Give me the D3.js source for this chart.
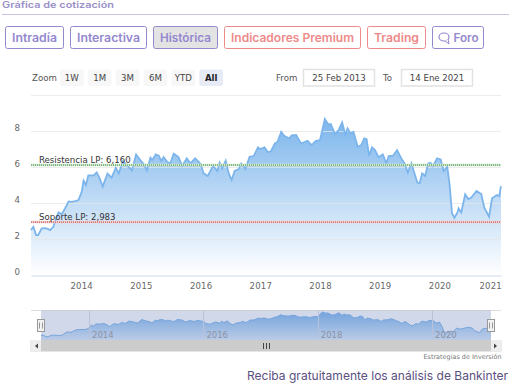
<!DOCTYPE html>
<html>
<head>
<meta charset="utf-8">
<script src="https://cdn.jsdelivr.net/npm/d3@7/dist/d3.min.js"></script>
<style>
  html, body { margin: 0; padding: 0; background: #fff; overflow: hidden; }
  svg { display: block; }
  .chart-text { font-family: "DejaVu Sans", sans-serif; }
  .page-text { font-family: Inter, "Noto Sans", sans-serif; }
</style>
</head>
<body>
<svg id="chart" width="514" height="386"></svg>
<script>
// values
let years = [
  2013.16, 2013.20, 2013.245, 2013.28, 2013.34, 2013.40, 2013.45, 2013.48, 2013.535, 2013.56,
  2013.62, 2013.675, 2013.73, 2013.79, 2013.84, 2013.90, 2013.955, 2014.01, 2014.04, 2014.08,
  2014.12, 2014.21, 2014.26, 2014.31, 2014.36, 2014.44, 2014.51, 2014.58, 2014.63, 2014.70,
  2014.79, 2014.85, 2014.92, 2014.99, 2015.05, 2015.10, 2015.16, 2015.19, 2015.25, 2015.30,
  2015.34, 2015.38, 2015.44, 2015.49, 2015.55, 2015.63, 2015.69, 2015.77, 2015.83, 2015.91,
  2016.00, 2016.05, 2016.12, 2016.21, 2016.28, 2016.32, 2016.36, 2016.42, 2016.47, 2016.52,
  2016.57, 2016.64, 2016.68, 2016.75, 2016.82, 2016.89, 2016.96, 2017.00, 2017.07, 2017.13,
  2017.18, 2017.245, 2017.29, 2017.35, 2017.40, 2017.485, 2017.525, 2017.60, 2017.68, 2017.79,
  2017.86, 2017.93, 2018.00, 2018.08, 2018.14, 2018.18, 2018.25, 2018.31, 2018.37, 2018.425,
  2018.46, 2018.51, 2018.56, 2018.63, 2018.69, 2018.74, 2018.78, 2018.82, 2018.87, 2018.92,
  2018.98, 2019.05, 2019.11, 2019.15, 2019.22, 2019.29, 2019.36, 2019.415, 2019.47, 2019.53,
  2019.58, 2019.63, 2019.67, 2019.71, 2019.76, 2019.81, 2019.85, 2019.89, 2019.96, 2020.02,
  2020.07, 2020.13, 2020.17, 2020.21, 2020.25, 2020.30, 2020.32, 2020.365, 2020.43, 2020.48,
  2020.53, 2020.62, 2020.70, 2020.75, 2020.83, 2020.88, 2020.96, 2021.00, 2021.03
];
let prices = [
  2.52, 2.69, 2.24, 2.24, 2.61, 2.63, 2.57, 2.52, 2.70, 2.98,
  3.50, 3.39, 3.72, 4.11, 4.09, 4.13, 4.19, 4.65, 5.26, 5.02,
  5.56, 5.56, 5.72, 5.39, 4.93, 5.65, 5.43, 5.98, 5.67, 6.35,
  6.04, 5.83, 6.72, 6.41, 6.17, 5.83, 6.54, 6.41, 6.72, 6.65,
  6.35, 6.57, 6.31, 6.22, 6.76, 6.57, 6.09, 6.50, 6.22, 6.50,
  6.19, 5.67, 5.52, 6.09, 5.80, 6.26, 5.94, 6.37, 5.67, 5.30,
  5.80, 5.91, 6.22, 5.91, 6.59, 6.63, 7.11, 7.02, 7.11, 6.83,
  6.91, 7.33, 7.43, 7.98, 7.76, 7.61, 7.78, 7.80, 7.33, 7.48,
  7.24, 7.48, 7.52, 8.69, 8.39, 8.41, 7.85, 8.07, 8.50, 7.80,
  8.17, 7.89, 7.98, 7.15, 7.24, 7.61, 7.57, 6.65, 7.11, 6.96,
  6.57, 6.72, 6.22, 6.63, 6.65, 6.96, 6.50, 6.22, 5.72, 6.22,
  5.67, 5.15, 5.13, 5.67, 5.52, 6.22, 6.26, 6.07, 6.50, 6.44,
  5.80, 6.04, 5.02, 3.44, 3.20, 3.50, 3.72, 3.50, 4.50, 4.24,
  4.31, 4.69, 4.52, 3.76, 3.26, 4.28, 4.46, 4.41, 4.96
];
let yTicks = [0, 2, 4, 6, 8, 10];
let xTicks = [2014, 2015, 2016, 2017, 2018, 2019, 2020, 2021];
let navTicks = [2014, 2016, 2018, 2020];
let resistance = 6.13;
let support = 2.96;
let resistanceLabel = 'Resistencia LP: 6,160';
let supportLabel = 'Soporte LP: 2,983';
let ranges = ['1W', '1M', '3M', '6M', 'YTD', 'All'];
let tabs = [
  {label: 'Intradía', x0: 5.5, x1: 63.5, red: false},
  {label: 'Interactiva', x0: 70.5, x1: 146.5, red: false},
  {label: 'Histórica', x0: 153.5, x1: 217.5, red: false, active: true},
  {label: 'Indicadores Premium', x0: 224.5, x1: 360.5, red: true},
  {label: 'Trading', x0: 367.5, x1: 425.5, red: true},
  {label: 'Foro', x0: 432.5, x1: 483.5, red: false, icon: true}
];

let series = years.map(function (d, i) {
  return {year: d, price: prices[i]};
});

let svg = d3.select('#chart');
let domainX = [2013.16, 2021.03];
let chartFontSize = 8.6;

let x = d3.scaleLinear().domain(domainX).range([31, 501]);
let y = d3.scaleLinear().domain([0, 10]).range([275.4, 95.4]);

// header
svg.append('text').attr('class', 'page-text')
  .attr('x', 2).attr('y', 8)
  .attr('font-size', 9).attr('font-weight', 600).attr('fill', '#9a90c8')
  .attr('textLength', 112).attr('lengthAdjust', 'spacingAndGlyphs')
  .text('Gráfica de cotización');
svg.append('line')
  .attr('x1', 2).attr('x2', 509).attr('y1', 14.5).attr('y2', 14.5)
  .attr('stroke', '#c9c3e6');

let tab = svg.selectAll('.tab').data(tabs).enter().append('g').attr('class', 'tab');
tab.append('rect')
  .attr('x', function (d) { return d.x0; })
  .attr('y', 26.5)
  .attr('width', function (d) { return d.x1 - d.x0; })
  .attr('height', 22)
  .attr('rx', 2)
  .attr('fill', function (d) { return d.active ? '#e3e3e3' : '#fff'; })
  .attr('stroke', function (d) { return d.red ? '#ee8a8a' : '#9488cf'; });
tab.append('text').attr('class', 'page-text')
  .attr('x', function (d) { return (d.x0 + d.x1) / 2 + (d.icon ? 8 : 0); })
  .attr('y', 42)
  .attr('text-anchor', 'middle')
  .attr('font-size', 11.5).attr('font-weight', 600)
  .attr('fill', function (d) { return d.red ? '#ee8a8a' : '#9488cf'; })
  .attr('textLength', function (d) { return d.icon ? 25 : d.x1 - d.x0 - 13; })
  .attr('lengthAdjust', 'spacingAndGlyphs')
  .text(function (d) { return d.label; });

// speech bubble of the Foro tab
svg.append('ellipse')
  .attr('cx', 444).attr('cy', 37).attr('rx', 5).attr('ry', 4)
  .attr('fill', 'none').attr('stroke', '#9488cf').attr('stroke-width', 1.2);
svg.append('path')
  .attr('d', 'M445,41 L449,44 L448,39')
  .attr('fill', '#fff').attr('stroke', '#9488cf').attr('stroke-width', 1);

// range selector
svg.append('text').attr('class', 'chart-text')
  .attr('x', 32).attr('y', 81).attr('font-size', chartFontSize).attr('fill', '#555')
  .text('Zoom');
let rangeX = d3.scaleBand().domain(ranges).range([60, 223]).paddingInner(0.15);
let rangeG = svg.selectAll('.range').data(ranges).enter().append('g').attr('class', 'range');
rangeG.append('rect')
  .attr('x', function (d) { return rangeX(d); })
  .attr('y', 69.5)
  .attr('width', rangeX.bandwidth())
  .attr('height', 16.5)
  .attr('rx', 2)
  .attr('fill', function (d) { return d === 'All' ? '#e6ebf5' : '#f7f7f7'; });
rangeG.append('text').attr('class', 'chart-text')
  .attr('x', function (d) { return rangeX(d) + rangeX.bandwidth() / 2; })
  .attr('y', 80.5)
  .attr('text-anchor', 'middle')
  .attr('font-size', chartFontSize)
  .attr('font-weight', function (d) { return d === 'All' ? 'bold' : 'normal'; })
  .attr('fill', function (d) { return d === 'All' ? '#222' : '#444'; })
  .text(function (d) { return d; });

let dateBoxes = [
  {label: 'From', lx: 276, x0: 303.5, x1: 374.5, value: '25 Feb 2013'},
  {label: 'To', lx: 383, x0: 401.5, x1: 472.5, value: '14 Ene 2021'}
];
let dateG = svg.selectAll('.date-box').data(dateBoxes).enter().append('g').attr('class', 'date-box');
dateG.append('text').attr('class', 'chart-text')
  .attr('x', function (d) { return d.lx; })
  .attr('y', 80.5).attr('font-size', chartFontSize).attr('fill', '#555')
  .text(function (d) { return d.label; });
dateG.append('rect')
  .attr('x', function (d) { return d.x0; })
  .attr('y', 69.5)
  .attr('width', function (d) { return d.x1 - d.x0; })
  .attr('height', 16.5)
  .attr('fill', '#fff').attr('stroke', '#e2e2e2').attr('stroke-width', 1.5);
dateG.append('text').attr('class', 'chart-text')
  .attr('x', function (d) { return (d.x0 + d.x1) / 2; })
  .attr('y', 80.5)
  .attr('text-anchor', 'middle').attr('font-size', chartFontSize).attr('fill', '#444')
  .text(function (d) { return d.value; });

// main area
let defs = svg.append('defs');
let grad = defs.append('linearGradient')
  .attr('id', 'area-fill').attr('x1', 0).attr('x2', 0).attr('y1', 0).attr('y2', 1);
grad.append('stop').attr('offset', 0).attr('stop-color', '#7cb5ec');
grad.append('stop').attr('offset', 1).attr('stop-color', '#7cb5ec').attr('stop-opacity', 0);

let area = d3.area()
  .x(function (d) { return x(d.year); })
  .y0(y(0))
  .y1(function (d) { return y(d.price); });
let line = d3.line()
  .x(function (d) { return x(d.year); })
  .y(function (d) { return y(d.price); });

let yAxis = d3.axisLeft(y)
  .tickValues(yTicks)
  .tickFormat(d3.format('d'))
  .tickSize(0);
let yAxisG = svg.append('g').attr('class', 'y-axis chart-text').attr('transform', 'translate(31,0)').call(yAxis);
yAxisG.select('.domain').remove();
yAxisG.selectAll('.tick text')
  .attr('x', -11).attr('dy', -1)
  .attr('font-family', '"DejaVu Sans", sans-serif')
  .attr('font-size', chartFontSize).attr('fill', '#666')
  .style('display', function (d) { return d === 10 ? 'none' : null; });

svg.append('path').datum(series)
  .attr('d', area).attr('fill', 'url(#area-fill)');

svg.append('g').selectAll('line').data(yTicks.filter(function (d) { return d > 0; })).enter().append('line')
  .attr('x1', 31).attr('x2', 501)
  .attr('y1', function (d) { return Math.round(y(d)) + 0.5; })
  .attr('y2', function (d) { return Math.round(y(d)) + 0.5; })
  .attr('stroke', '#e6e6e6').attr('stroke-opacity', 0.75);

svg.append('path').datum(series)
  .attr('d', line).attr('fill', 'none').attr('stroke', '#7cb5ec').attr('stroke-width', 1.8);

let levels = [
  {label: resistanceLabel, value: resistance, color: '#3c8a3c', halo: '#cfe6cf'},
  {label: supportLabel, value: support, color: '#c23c3c', halo: '#f0cfcf'}
];
let levelG = svg.selectAll('.level').data(levels).enter().append('g').attr('class', 'level');
levelG.append('line')
  .attr('x1', 31).attr('x2', 501)
  .attr('y1', function (d) { return y(d.value); })
  .attr('y2', function (d) { return y(d.value); })
  .attr('stroke', function (d) { return d.halo; }).attr('stroke-width', 2.5);
levelG.append('line')
  .attr('x1', 31).attr('x2', 501)
  .attr('y1', function (d) { return y(d.value); })
  .attr('y2', function (d) { return y(d.value); })
  .attr('stroke', function (d) { return d.color; }).attr('stroke-dasharray', '1,1');
levelG.append('text').attr('class', 'chart-text')
  .attr('x', 39)
  .attr('y', function (d) { return y(d.value) - 2.5; })
  .attr('font-size', chartFontSize).attr('fill', '#333')
  .text(function (d) { return d.label; });

let xAxis = d3.axisBottom(x)
  .tickValues(xTicks)
  .tickFormat(d3.format('d'))
  .tickSize(0);
let xAxisG = svg.append('g').attr('class', 'x-axis').attr('transform', 'translate(0,275.5)').call(xAxis);
xAxisG.select('.domain').attr('stroke', '#ccd6eb');
xAxisG.selectAll('.tick text')
  .attr('y', 10).attr('dy', 3.5)
  .attr('font-family', '"DejaVu Sans", sans-serif')
  .attr('font-size', 8.5).attr('fill', '#666')
  .attr('letter-spacing', 0.2)
  // last label is pushed back inside the plot
  .attr('dx', function (d) { return d === 2021 ? -9 : 0; });

// navigator
let navX = d3.scaleLinear().domain(domainX).range([41, 491]);
let navY = d3.scaleLinear().domain([0, 10]).range([345.3, 307]);

svg.append('line')
  .attr('x1', 31).attr('x2', 501).attr('y1', 310.5).attr('y2', 310.5)
  .attr('stroke', '#ddd');

let navGrad = defs.append('linearGradient')
  .attr('id', 'nav-fill').attr('x1', 0).attr('x2', 0).attr('y1', 0).attr('y2', 1);
navGrad.append('stop').attr('offset', 0).attr('stop-color', '#7cb5ec');
navGrad.append('stop').attr('offset', 1).attr('stop-color', '#7cb5ec').attr('stop-opacity', 0.25);

let navArea = d3.area()
  .x(function (d) { return navX(d.year); })
  .y0(340)
  .y1(function (d) { return navY(d.price); });
let navLine = d3.line()
  .x(function (d) { return navX(d.year); })
  .y(function (d) { return navY(d.price); });

svg.append('path').datum(series).attr('d', navArea).attr('fill', 'url(#nav-fill)');
svg.append('path').datum(series).attr('d', navLine)
  .attr('fill', 'none').attr('stroke', '#7cb5ec').attr('stroke-width', 1);

// selection mask over everything in the navigator
svg.append('rect')
  .attr('x', 41).attr('y', 310.5).attr('width', 450).attr('height', 29.5)
  .attr('fill', '#667fb8').attr('fill-opacity', 0.3);

let navTick = svg.append('g').selectAll('g').data(navTicks).enter().append('g');
navTick.append('line')
  .attr('x1', function (d) { return Math.round(navX(d)) + 0.5; })
  .attr('x2', function (d) { return Math.round(navX(d)) + 0.5; })
  .attr('y1', 310.5).attr('y2', 340)
  .attr('stroke', '#b9c2d8');
navTick.append('text').attr('class', 'chart-text')
  .attr('x', function (d) { return navX(d) + 3; })
  .attr('y', 337.5)
  .attr('font-size', 8.5).attr('fill', '#8d92a3')
  .text(function (d) { return d; });

// navigator handles
let handles = svg.append('g').selectAll('g').data([41, 491]).enter().append('g')
  .attr('transform', function (d) { return 'translate(' + d + ',0)'; });
handles.append('rect')
  .attr('x', -3.5).attr('y', 319.5).attr('width', 7).attr('height', 12)
  .attr('fill', '#f2f2f2').attr('stroke', '#999');
handles.append('path')
  .attr('d', 'M-1.5,322.5V328.5M1.5,322.5V328.5')
  .attr('stroke', '#999').attr('fill', 'none');

// scrollbar
svg.append('rect')
  .attr('x', 30.5).attr('y', 340).attr('width', 471).attr('height', 11.5)
  .attr('fill', '#cccccc');
let arrows = [
  {x: 30.5, d: 'M38,343.5 L35,346 L38,348.5 Z'},
  {x: 491, d: 'M494,343.5 L497,346 L494,348.5 Z'}
];
svg.append('g').selectAll('rect').data(arrows).enter().append('rect')
  .attr('x', function (d) { return d.x; })
  .attr('y', 340).attr('width', 10.5).attr('height', 11.5)
  .attr('fill', '#eeeeee');
svg.append('g').selectAll('path').data(arrows).enter().append('path')
  .attr('d', function (d) { return d.d; }).attr('fill', '#444');
svg.append('path')
  .attr('d', 'M263.5,343V349M266.5,343V349M269.5,343V349')
  .attr('stroke', '#444').attr('fill', 'none');

// credits and footer
svg.append('text').attr('class', 'chart-text')
  .attr('x', 501.5).attr('y', 358.5)
  .attr('text-anchor', 'end')
  .attr('font-size', 6.5).attr('fill', '#777')
  .attr('textLength', 78).attr('lengthAdjust', 'spacingAndGlyphs')
  .text('Estrategias de Inversión');
svg.append('text').attr('class', 'page-text')
  .attr('x', 247).attr('y', 379.5)
  .attr('font-size', 12).attr('fill', '#5a5082')
  .attr('textLength', 261).attr('lengthAdjust', 'spacingAndGlyphs')
  .text('Reciba gratuitamente los análisis de Bankinter');
</script>
</body>
</html>
